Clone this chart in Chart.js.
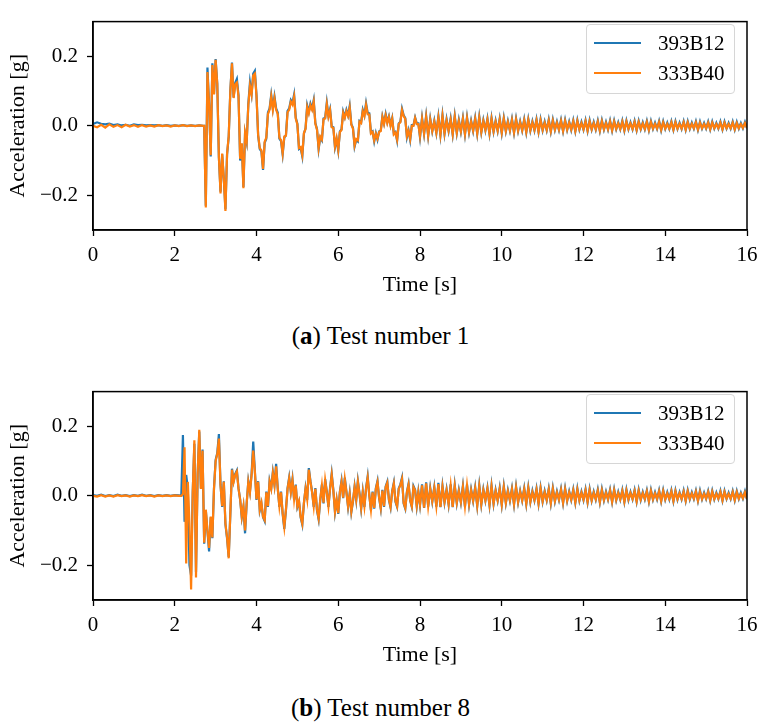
<!DOCTYPE html>
<html>
<head>
<meta charset="utf-8">
<script src="https://cdn.jsdelivr.net/npm/chart.js@4.4.1/dist/chart.umd.min.js"></script>
<style>
  body { margin: 0; background: #fff; overflow: hidden; }
  #wrap { position: relative; width: 766px; height: 725px; background: #fff; font-family: 'Liberation Serif', serif; }
  canvas { position: absolute; left: 0; }
  .cap { position: absolute; left: 0; width: 761px; text-align: center; font-size: 25px; line-height: 28px; color: #000; }
  .legend { position: absolute; left: 586px; width: 147px; height: 68px; border: 1px solid #d6d6d6; border-radius: 4px; background: rgba(255,255,255,0.8); }
  .legend .row { position: absolute; left: 0; height: 30px; width: 100%; }
  .legend .ln { position: absolute; left: 7px; width: 47px; height: 2px; top: 14px; }
  .legend .tx { position: absolute; left: 71px; top: 2px; font-size: 21px; line-height: 26px; color: #000; }
</style>
</head>
<body>
<div id="wrap">
  <canvas id="test1" width="766" height="300" style="top:0px"></canvas>
  <div class="legend" style="top:24px">
    <div class="row" style="top:3px"><div class="ln" style="background:#1f77b4"></div><div class="tx">393B12</div></div>
    <div class="row" style="top:33px"><div class="ln" style="background:#ff7f0e"></div><div class="tx">333B40</div></div>
  </div>
  <div class="cap" style="top:322px">(<b>a</b>) Test number 1</div>

  <canvas id="test8" width="766" height="300" style="top:370px"></canvas>
  <div class="legend" style="top:394px">
    <div class="row" style="top:3px"><div class="ln" style="background:#1f77b4"></div><div class="tx">393B12</div></div>
    <div class="row" style="top:33px"><div class="ln" style="background:#ff7f0e"></div><div class="tx">333B40</div></div>
  </div>
  <div class="cap" style="top:694px">(<b>b</b>) Test number 8</div>
</div>

<script>
// y tick labels shown on both plots
const yTicks = [-0.2, 0.0, 0.2];

// sampling of each record segment: [start time, step] in seconds
const test1PreGrid = [0, 0.1];
const test1MainGrid = [2.72, 0.04];
const test1TailGrid = [8.05, 0.05];
const test8PreGrid = [0, 0.1];
const test8MainGrid = [2.16, 0.04];
const test8TailGrid = [8.05, 0.05];

// Test 1 - 393B12
const test1BluePre = [0.005, 0.010, 0.006, 0.004, 0.006, 0.002, 0.004, 0.001, 0.003, 0.000,
  0.004, 0.002, 0.003, 0.001, 0.002, 0.001, 0.002, 0.000, 0.002, 0.000,
  0.001, 0.000, 0.002, 0.000, 0.001, 0.000, 0.001, 0.000];
const test1BlueMain = [0.000, -0.230, 0.168, 0.062, -0.088, 0.180, 0.092, 0.192, 0.122, -0.092,
  -0.190, -0.082, -0.152, -0.240, -0.082, -0.032, 0.102, 0.182, 0.082, 0.124,
  0.135, 0.088, -0.100, -0.052, -0.176, -0.022, -0.047, 0.063, 0.125, 0.092,
  0.150, 0.158, 0.088,
  -0.028, -0.067, -0.074, -0.127, -0.049, -0.037, 0.038, 0.050, 0.089, 0.050,
  0.084, 0.050, 0.038, -0.037, -0.044, -0.082, -0.034, -0.027, 0.043, 0.050,
  0.074, 0.066, 0.090, 0.024, 0.006, -0.067, -0.064, -0.088, -0.023, -0.007,
  0.059, 0.040, 0.064, 0.050, 0.074, 0.008, -0.009, -0.067, -0.034, -0.042,
  0.021, 0.023, 0.067, 0.029, 0.048, -0.002, -0.004, -0.062, -0.039, -0.072,
  -0.016, -0.010, 0.041, 0.025, 0.046, 0.030, 0.057, 0.005, -0.006, -0.060,
  -0.041, -0.045, 0.014, 0.010, 0.046, 0.030, 0.065, 0.037, 0.036, -0.020,
  -0.016, -0.045, -0.021, -0.040, -0.016, -0.013, 0.027, 0.007, 0.034, 0.010,
  0.027, 0.002, 0.022, -0.023, -0.018, -0.043, 0.007, 0.012, 0.049, 0.030,
  0.022, -0.033, -0.013, -0.041, 0.002, 0.002, 0.024, 0.007, 0.007, -0.033];
const test1BlueTail = [0.023, -0.023, 0.029, -0.029, 0.021, -0.016, 0.015, -0.021, 0.027, -0.027,
  0.031, -0.023, 0.019, -0.015, 0.021, -0.025, 0.029, -0.021, 0.017, -0.017,
  0.023, -0.025, 0.025, -0.019, 0.015, -0.015, 0.023, -0.023, 0.027, -0.019,
  0.017, -0.013, 0.021, -0.023, 0.023, -0.017, 0.015, -0.015, 0.021, -0.021,
  0.023, -0.016, 0.014, -0.014, 0.020, -0.020, 0.021, -0.015, 0.013, -0.014,
  0.019, -0.019, 0.020, -0.014, 0.013, -0.013, 0.019, -0.018, 0.019, -0.013,
  0.012, -0.013, 0.018, -0.017, 0.018, -0.012, 0.012, -0.012, 0.017, -0.016,
  0.017, -0.012, 0.012, -0.012, 0.016, -0.016, 0.017, -0.011, 0.011, -0.011,
  0.016, -0.015, 0.016, -0.011, 0.011, -0.011, 0.015, -0.015, 0.016, -0.011,
  0.011, -0.011, 0.015, -0.014, 0.015, -0.010, 0.010, -0.010, 0.015, -0.014,
  0.015, -0.010, 0.010, -0.010, 0.014, -0.013, 0.014, -0.010, 0.010, -0.010,
  0.014, -0.013, 0.014, -0.009, 0.009, -0.009, 0.014, -0.013, 0.013, -0.009,
  0.009, -0.009, 0.013, -0.012, 0.013, -0.009, 0.009, -0.009, 0.013, -0.012,
  0.013, -0.009, 0.009, -0.008, 0.013, -0.012, 0.012, -0.008, 0.008, -0.008,
  0.012, -0.011, 0.012, -0.008, 0.008, -0.008, 0.012, -0.011, 0.012, -0.008,
  0.008, -0.008, 0.012, -0.011, 0.011, -0.008, 0.008, -0.007, 0.011, -0.007];

// Test 1 - 333B40
const test1OrangePre = [0.000, -0.004, 0.003, -0.005, 0.004, -0.003, 0.002, -0.004, 0.003, -0.002,
  0.002, -0.003, 0.002, -0.002, 0.001, -0.002, 0.002, -0.001, 0.001, -0.002,
  0.001, -0.001, 0.002, -0.001, 0.001, -0.001, 0.001, 0.000];
const test1OrangeMain = [0.000, -0.235, 0.155, 0.060, -0.085, 0.175, 0.090, 0.190, 0.120, -0.090,
  -0.195, -0.080, -0.150, -0.245, -0.080, -0.030, 0.100, 0.180, 0.080, 0.120,
  0.125, 0.085, -0.095, -0.050, -0.180, -0.020, -0.045, 0.060, 0.115, 0.090,
  0.145, 0.150, 0.085,
  -0.026, -0.064, -0.071, -0.124, -0.046, -0.034, 0.034, 0.046, 0.084, 0.046,
  0.079, 0.046, 0.034, -0.034, -0.041, -0.079, -0.031, -0.029, 0.039, 0.046,
  0.069, 0.061, 0.084, 0.021, 0.004, -0.064, -0.061, -0.084, -0.021, -0.009,
  0.054, 0.036, 0.059, 0.046, 0.069, 0.006, -0.011, -0.064, -0.031, -0.039,
  0.019, 0.021, 0.062, 0.026, 0.044, -0.004, -0.006, -0.059, -0.036, -0.069,
  -0.018, -0.012, 0.037, 0.023, 0.042, 0.028, 0.052, 0.003, -0.008, -0.057,
  -0.038, -0.042, 0.012, 0.008, 0.042, 0.028, 0.060, 0.033, 0.032, -0.022,
  -0.018, -0.042, -0.023, -0.037, -0.018, -0.015, 0.025, 0.005, 0.030, 0.008,
  0.025, 0.000, 0.020, -0.025, -0.020, -0.040, 0.005, 0.010, 0.045, 0.028,
  0.020, -0.030, -0.015, -0.038, 0.000, 0.000, 0.022, 0.005, 0.005, -0.030];
const test1OrangeTail = [0.020, -0.022, 0.026, -0.028, 0.018, -0.015, 0.012, -0.020, 0.024, -0.026,
  0.028, -0.022, 0.016, -0.014, 0.018, -0.024, 0.026, -0.020, 0.014, -0.016,
  0.020, -0.024, 0.022, -0.018, 0.012, -0.014, 0.020, -0.022, 0.024, -0.018,
  0.014, -0.012, 0.018, -0.022, 0.020, -0.016, 0.012, -0.014, 0.018, -0.020,
  0.020, -0.015, 0.011, -0.013, 0.017, -0.019, 0.018, -0.014, 0.010, -0.013,
  0.016, -0.018, 0.017, -0.013, 0.010, -0.012, 0.016, -0.017, 0.016, -0.012,
  0.009, -0.012, 0.015, -0.016, 0.015, -0.011, 0.009, -0.011, 0.014, -0.015,
  0.014, -0.011, 0.009, -0.011, 0.013, -0.015, 0.014, -0.010, 0.008, -0.010,
  0.013, -0.014, 0.013, -0.010, 0.008, -0.010, 0.012, -0.014, 0.013, -0.010,
  0.008, -0.010, 0.012, -0.013, 0.012, -0.009, 0.007, -0.009, 0.012, -0.013,
  0.012, -0.009, 0.007, -0.009, 0.011, -0.012, 0.011, -0.009, 0.007, -0.009,
  0.011, -0.012, 0.011, -0.008, 0.006, -0.008, 0.011, -0.012, 0.010, -0.008,
  0.006, -0.008, 0.010, -0.011, 0.010, -0.008, 0.006, -0.008, 0.010, -0.011,
  0.010, -0.008, 0.006, -0.007, 0.010, -0.011, 0.009, -0.007, 0.005, -0.007,
  0.009, -0.010, 0.009, -0.007, 0.005, -0.007, 0.009, -0.010, 0.009, -0.007,
  0.005, -0.007, 0.009, -0.010, 0.008, -0.007, 0.005, -0.006, 0.008, -0.006];

// Test 8 - 393B12
const test8BluePre = [0.002, 0.000, 0.003, -0.001, 0.002, -0.001, 0.003, 0.000, 0.002, -0.001,
  0.002, 0.000, 0.003, 0.000, 0.002, -0.001, 0.002, 0.000, 0.002, 0.000,
  0.002, 0.001];
const test8BlueMain = [0.000, 0.175, -0.075, 0.060, 0.020, -0.200, -0.230, 0.012, 0.150, -0.220,
  0.062, 0.185, 0.022, 0.133, -0.138, -0.042, -0.102, -0.160, -0.062, -0.122,
  0.022, 0.103, 0.123, 0.178, 0.032, -0.032, 0.042, -0.082, -0.123, -0.176,
  -0.052, 0.078, 0.042, 0.063, 0.073, 0.022, -0.012, -0.062, -0.032, -0.108,
  -0.022, 0.042, 0.012, 0.063, 0.156, 0.072, -0.012, 0.042, -0.042, -0.022,
  -0.062, -0.073, 0.012, -0.032, 0.043, 0.022, 0.068, 0.032, 0.092, 0.022,
  -0.032, 0.012, -0.052, -0.095, -0.042, 0.022, 0.053, 0.012, 0.048, -0.012,
  0.032, -0.032, -0.017, -0.062, -0.083, -0.022, 0.022, -0.012, 0.080, 0.042,
  0.012, -0.032, 0.022, -0.042, -0.068, -0.012, 0.032, -0.022, 0.048, 0.012,
  -0.032, 0.022, 0.064, 0.017, -0.047, -0.012, -0.052, 0.012, 0.043, -0.007,
  0.052, 0.012, -0.032, 0.007, -0.047, -0.017, 0.027, -0.012, 0.043, 0.007,
  -0.037, 0.012, -0.032, 0.022, 0.056, 0.002, -0.042, 0.012, -0.037, 0.022,
  0.043, -0.007, -0.037, 0.017, -0.032, 0.027, 0.041, -0.012, -0.034, 0.014,
  0.038, -0.017, -0.032, 0.022, 0.033, 0.052, -0.022, -0.037, 0.012, 0.035,
  -0.014, -0.032, 0.028, 0.017, -0.030, 0.012, -0.027];
const test8BlueTail = [0.033, -0.035, 0.039, -0.031, 0.023, -0.017, 0.025, -0.031, 0.037, -0.033,
  0.029, -0.019, 0.019, -0.025, 0.033, -0.033, 0.031, -0.021, 0.017, -0.019,
  0.029, -0.031, 0.033, -0.025, 0.019, -0.015, 0.025, -0.029, 0.031, -0.025,
  0.019, -0.014, 0.023, -0.027, 0.030, -0.023, 0.017, -0.014, 0.023, -0.026,
  0.028, -0.021, 0.016, -0.014, 0.022, -0.025, 0.027, -0.019, 0.015, -0.014,
  0.022, -0.024, 0.025, -0.018, 0.014, -0.013, 0.021, -0.023, 0.024, -0.017,
  0.014, -0.013, 0.021, -0.022, 0.023, -0.016, 0.013, -0.012, 0.020, -0.021,
  0.022, -0.015, 0.013, -0.012, 0.019, -0.020, 0.021, -0.014, 0.012, -0.012,
  0.019, -0.019, 0.020, -0.014, 0.012, -0.011, 0.018, -0.019, 0.019, -0.013,
  0.012, -0.011, 0.018, -0.018, 0.019, -0.013, 0.011, -0.011, 0.017, -0.018,
  0.018, -0.012, 0.011, -0.010, 0.017, -0.017, 0.018, -0.012, 0.011, -0.010,
  0.016, -0.017, 0.017, -0.011, 0.010, -0.010, 0.016, -0.016, 0.017, -0.011,
  0.010, -0.010, 0.016, -0.016, 0.016, -0.011, 0.010, -0.010, 0.015, -0.015,
  0.016, -0.010, 0.010, -0.009, 0.015, -0.015, 0.015, -0.010, 0.009, -0.009,
  0.014, -0.014, 0.015, -0.010, 0.009, -0.009, 0.014, -0.014, 0.014, -0.009,
  0.009, -0.009, 0.014, -0.013, 0.014, -0.009, 0.009, -0.008, 0.013, -0.010];

// Test 8 - 333B40
const test8OrangePre = [0.000, -0.002, 0.002, -0.002, 0.001, -0.002, 0.002, -0.001, 0.001, -0.002,
  0.001, -0.001, 0.002, -0.001, 0.001, -0.002, 0.001, -0.001, 0.001, -0.001,
  0.001, 0.000];
const test8OrangeMain = [0.000, 0.005, 0.140, -0.195, 0.040, -0.080, -0.270, 0.010, 0.160, -0.235,
  0.060, 0.190, 0.020, 0.130, -0.135, -0.040, -0.100, -0.150, -0.060, -0.120,
  0.020, 0.100, 0.120, 0.165, 0.030, -0.030, 0.040, -0.080, -0.120, -0.180,
  -0.050, 0.075, 0.040, 0.060, 0.070, 0.020, -0.010, -0.060, -0.030, -0.100,
  -0.020, 0.040, 0.010, 0.060, 0.130, 0.070, -0.010, 0.040, -0.040, -0.020,
  -0.060, -0.070, 0.010, -0.030, 0.040, 0.020, 0.065, 0.030, 0.085, 0.020,
  -0.030, 0.010, -0.050, -0.090, -0.040, 0.020, 0.050, 0.010, 0.045, -0.010,
  0.030, -0.030, -0.015, -0.060, -0.080, -0.020, 0.020, -0.010, 0.075, 0.040,
  0.010, -0.030, 0.020, -0.040, -0.065, -0.010, 0.030, -0.020, 0.045, 0.010,
  -0.030, 0.020, 0.060, 0.015, -0.045, -0.010, -0.050, 0.010, 0.040, -0.005,
  0.048, 0.010, -0.030, 0.005, -0.045, -0.015, 0.025, -0.010, 0.040, 0.005,
  -0.035, 0.010, -0.030, 0.020, 0.052, 0.000, -0.040, 0.010, -0.035, 0.020,
  0.040, -0.005, -0.035, 0.015, -0.030, 0.025, 0.038, -0.010, -0.032, 0.012,
  0.035, -0.015, -0.030, 0.020, 0.030, 0.048, -0.020, -0.035, 0.010, 0.032,
  -0.012, -0.030, 0.025, 0.015, -0.028, 0.010, -0.025];
const test8OrangeTail = [0.030, -0.034, 0.036, -0.030, 0.020, -0.016, 0.022, -0.030, 0.034, -0.032,
  0.026, -0.018, 0.016, -0.024, 0.030, -0.032, 0.028, -0.020, 0.014, -0.018,
  0.026, -0.030, 0.030, -0.024, 0.016, -0.014, 0.022, -0.028, 0.028, -0.024,
  0.016, -0.013, 0.020, -0.026, 0.027, -0.022, 0.014, -0.013, 0.020, -0.025,
  0.025, -0.020, 0.013, -0.013, 0.019, -0.024, 0.024, -0.018, 0.012, -0.013,
  0.019, -0.023, 0.022, -0.017, 0.011, -0.012, 0.018, -0.022, 0.021, -0.016,
  0.011, -0.012, 0.018, -0.021, 0.020, -0.015, 0.010, -0.011, 0.017, -0.020,
  0.019, -0.014, 0.010, -0.011, 0.016, -0.019, 0.018, -0.013, 0.009, -0.011,
  0.016, -0.018, 0.017, -0.013, 0.009, -0.010, 0.015, -0.018, 0.016, -0.012,
  0.009, -0.010, 0.015, -0.017, 0.016, -0.012, 0.008, -0.010, 0.014, -0.017,
  0.015, -0.011, 0.008, -0.009, 0.014, -0.016, 0.015, -0.011, 0.008, -0.009,
  0.013, -0.016, 0.014, -0.010, 0.007, -0.009, 0.013, -0.015, 0.014, -0.010,
  0.007, -0.009, 0.013, -0.015, 0.013, -0.010, 0.007, -0.009, 0.012, -0.014,
  0.013, -0.009, 0.007, -0.008, 0.012, -0.014, 0.012, -0.009, 0.006, -0.008,
  0.011, -0.013, 0.012, -0.009, 0.006, -0.008, 0.011, -0.013, 0.011, -0.008,
  0.006, -0.008, 0.011, -0.012, 0.011, -0.008, 0.006, -0.007, 0.010, -0.009];

Chart.defaults.font.family = "'Liberation Serif', 'Times New Roman', serif";
Chart.defaults.color = '#000';

// join the segments into {x, y} points
function toPoints(segments) {
  const pts = [];
  segments.forEach(([grid, values]) => {
    values.forEach((v, i) => pts.push({ x: +(grid[0] + i * grid[1]).toFixed(2), y: v }));
  });
  return pts;
}

function fmtY(v) {
  if (Math.abs(v) < 1e-9) return '0.0';
  return (v < 0 ? '\u2212' : '') + Math.abs(v).toFixed(1);
}

// matplotlib style closed frame
const framePlugin = {
  id: 'frame',
  afterDraw(chart) {
    const { ctx, chartArea: a } = chart;
    ctx.save();
    ctx.strokeStyle = '#000';
    ctx.lineWidth = 1.5;
    ctx.strokeRect(a.left, a.top, a.right - a.left, a.bottom - a.top);
    ctx.restore();
  }
};

function makeChart(id, blue, orange) {
  const tickFont = { size: 21 };
  const titleFont = { size: 22 };
  const grid = { drawOnChartArea: false, drawTicks: true, tickLength: 6, tickColor: '#000', tickWidth: 1.3 };
  const border = { color: '#000', width: 1.5 };

  return new Chart(document.getElementById(id), {
    type: 'line',
    data: {
      datasets: [
        { label: '393B12', data: blue, borderColor: '#1f77b4', borderWidth: 2.2, pointRadius: 0, order: 2 },
        { label: '333B40', data: orange, borderColor: '#ff7f0e', borderWidth: 2.2, pointRadius: 0, order: 1 }
      ]
    },
    options: {
      responsive: false,
      animation: false,
      layout: { padding: { top: 13, right: 19, left: 0, bottom: 0 } },
      plugins: { legend: { display: false }, tooltip: { enabled: false } },
      scales: {
        x: {
          type: 'linear',
          min: 0,
          max: 16,
          ticks: { stepSize: 2, font: tickFont, color: '#000', padding: 7, maxRotation: 0 },
          grid: grid,
          border: border,
          title: { display: true, text: 'Time [s]', font: titleFont, color: '#000', padding: { top: 0, bottom: 2 } },
          afterFit: s => { s.height = 70; }
        },
        y: {
          min: -0.3,
          max: 0.3,
          afterBuildTicks: s => { s.ticks = yTicks.map(v => ({ value: v })); },
          ticks: { font: tickFont, color: '#000', padding: 9, callback: v => fmtY(v) },
          grid: grid,
          border: border,
          title: { display: true, text: 'Acceleration [g]', font: titleFont, color: '#000', padding: { top: 5, bottom: 0 } },
          afterFit: s => { s.width = 93; }
        }
      }
    },
    plugins: [framePlugin]
  });
}

makeChart('test1',
  toPoints([[test1PreGrid, test1BluePre], [test1MainGrid, test1BlueMain], [test1TailGrid, test1BlueTail]]),
  toPoints([[test1PreGrid, test1OrangePre], [test1MainGrid, test1OrangeMain], [test1TailGrid, test1OrangeTail]]));

makeChart('test8',
  toPoints([[test8PreGrid, test8BluePre], [test8MainGrid, test8BlueMain], [test8TailGrid, test8BlueTail]]),
  toPoints([[test8PreGrid, test8OrangePre], [test8MainGrid, test8OrangeMain], [test8TailGrid, test8OrangeTail]]));
</script>
</body>
</html>
